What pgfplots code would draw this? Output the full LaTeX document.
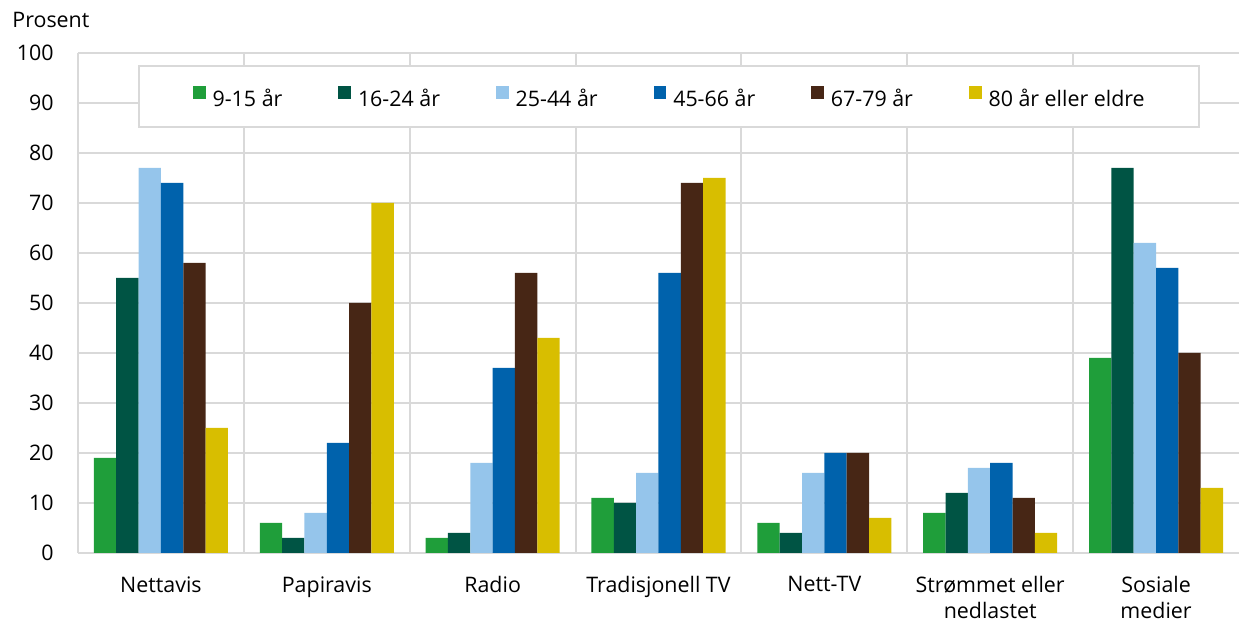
\documentclass[border=0pt]{standalone}
\usepackage{fontspec}
\setmainfont{Open Sans}
\usepackage{pgfplots}
\pgfplotsset{compat=1.18}
\definecolor{gridgray}{RGB}{217,217,217}
\definecolor{aarA}{RGB}{31,158,58}
\definecolor{aarB}{RGB}{0,84,68}
\definecolor{aarC}{RGB}{149,197,235}
\definecolor{aarD}{RGB}{0,98,172}
\definecolor{aarE}{RGB}{71,38,21}
\definecolor{aarF}{RGB}{216,190,0}
\newcommand{\lblfont}{\fontsize{10.7bp}{13bp}\selectfont}

\begin{document}
\begin{tikzpicture}
\path[use as bounding box] (0,0) rectangle (619.5bp,311.5bp);
\begin{axis}[
  at={(39bp,35bp)}, anchor=south west,
  scale only axis, width=580.5bp, height=250bp,
  clip mode=individual,
  ybar=0pt, bar width=0.1347,
  enlargelimits=false,
  xmin=0.5, xmax=7.5, ymin=0, ymax=100,
  xtick={1,...,7},
  xticklabels={Nettavis, Papiravis, Radio, Tradisjonell TV, Nett-TV, {Strømmet eller\\nedlastet}, {Sosiale\\medier}},
  minor xtick={1.5,2.5,...,6.5},
  ytick={0,10,...,100},
  ymajorgrids, xminorgrids,
  grid style={gridgray, line width=1bp},
  major tick length=0pt, minor tick length=0pt,
  axis x line*=bottom, axis y line*=left,
  axis line style={gridgray, line width=1bp, -},
  /pgf/number format/assume math mode=true,
  yticklabel style={font=\lblfont, anchor=east, inner sep=0pt, xshift=-12bp},
  xticklabel style={font=\lblfont, align=center, anchor=north, inner sep=0pt, yshift=-11.5bp},
  legend columns=6,
  legend image code/.code={\fill[#1, draw=none] (0bp,0bp) rectangle (6.3bp,6.3bp);},
  legend style={at={(rel axis cs:0.0517,0.976)}, anchor=north west,
    draw=gridgray, line width=1bp, inner xsep=27bp, inner ysep=10bp,
    font=\lblfont,
    nodes={inner sep=0pt, text height=8bp, text depth=0pt},
    /tikz/every odd column/.append style={column sep=3.5bp},
    /tikz/every even column/.append style={column sep=28bp}},
]
\addplot[fill=aarA, draw=none] coordinates {(1,19)(2,6)(3,3)(4,11)(5,6)(6,8)(7,39)};
\addplot[fill=aarB, draw=none] coordinates {(1,55)(2,3)(3,4)(4,10)(5,4)(6,12)(7,77)};
\addplot[fill=aarC, draw=none] coordinates {(1,77)(2,8)(3,18)(4,16)(5,16)(6,17)(7,62)};
\addplot[fill=aarD, draw=none] coordinates {(1,74)(2,22)(3,37)(4,56)(5,20)(6,18)(7,57)};
\addplot[fill=aarE, draw=none] coordinates {(1,58)(2,50)(3,56)(4,74)(5,20)(6,11)(7,40)};
\addplot[fill=aarF, draw=none] coordinates {(1,25)(2,70)(3,43)(4,75)(5,7)(6,4)(7,13)};
\legend{9-15 år, 16-24 år, 25-44 år, 45-66 år, 67-79 år, 80 år eller eldre}
\node[anchor=base west, inner sep=0pt, font=\lblfont, xshift=-33bp, yshift=12.5bp] at (rel axis cs:0,1) {Prosent};
\end{axis}
\end{tikzpicture}
\end{document}
